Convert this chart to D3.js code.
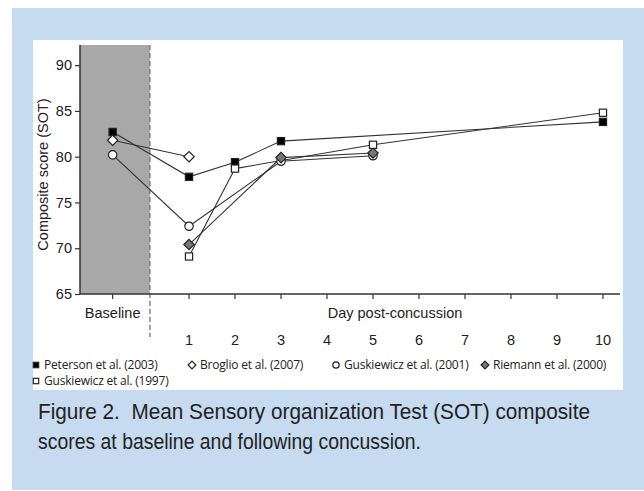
<!DOCTYPE html>
<html>
<head>
<meta charset="utf-8">
<script src="https://cdn.jsdelivr.net/npm/d3@7"></script>
<style>
  body { margin: 0; background: #fff; }
  svg { display: block; }
</style>
</head>
<body>
<svg></svg>
<script>
// --- data ---
var BASE = -0.66;   // where "Baseline" sits on the day axis
var dayTicks = [1, 2, 3, 4, 5, 6, 7, 8, 9, 10];
var yTicks = [65, 70, 75, 80, 85, 90];

var petersonDays = [BASE, 1, 2, 3, 10];
var petersonVals = [82.7, 77.8, 79.4, 81.7, 83.8];

var broglioDays = [BASE, 1];
var broglioVals = [81.8, 80.0];

var gusk2001Days = [BASE, 1, 3, 5];
var gusk2001Vals = [80.2, 72.4, 79.5, 80.1];

var riemannDays = [1, 3, 5];
var riemannVals = [70.4, 79.9, 80.4];

var gusk1997Days = [1, 2, 5, 10];
var gusk1997Vals = [69.1, 78.7, 81.3, 84.8];

var seriesNames = ["Peterson et al. (2003)", "Broglio et al. (2007)", "Guskiewicz et al. (2001)",
                   "Riemann et al. (2000)", "Guskiewicz et al. (1997)"];

var series = [
  {name: seriesNames[0], days: petersonDays, vals: petersonVals, shape: "square", fill: "#000"},
  {name: seriesNames[1], days: broglioDays, vals: broglioVals, shape: "diamond", fill: "#fff"},
  {name: seriesNames[2], days: gusk2001Days, vals: gusk2001Vals, shape: "circle", fill: "#fff"},
  {name: seriesNames[3], days: riemannDays, vals: riemannVals, shape: "diamond", fill: "#777"},
  {name: seriesNames[4], days: gusk1997Days, vals: gusk1997Vals, shape: "square", fill: "#fff"}
];

var width = 644, height = 491;
var svg = d3.select("svg").attr("width", width).attr("height", height);

// blue frame + white chart panel
svg.append("rect").attr("x", 12).attr("y", 8).attr("width", width - 12).attr("height", 482)
  .attr("fill", "#c6dbef");
svg.append("rect").attr("x", 33).attr("y", 40).attr("width", 590).attr("height", 350)
  .attr("fill", "#fff");

var plot = {left: 80, right: 620, top: 45, bottom: 294};

var x = d3.scaleLinear().domain([-1.37, 10.37]).range([plot.left, plot.right]);
var y = d3.scaleLinear().domain([65, 92.2]).range([plot.bottom, plot.top]);

// baseline shaded band
svg.append("rect")
  .attr("x", x(-1.37)).attr("y", plot.top)
  .attr("width", x(0.15) - x(-1.37)).attr("height", plot.bottom - plot.top)
  .attr("fill", "#a8a8a8");

svg.append("line")
  .attr("x1", x(0.15)).attr("x2", x(0.15))
  .attr("y1", plot.top).attr("y2", 337)
  .attr("stroke", "#777").attr("stroke-width", 1.3)
  .attr("stroke-dasharray", "5,3");

var fontAxis = "'Liberation Sans', Arial, sans-serif";

// axes
var yAxis = d3.axisLeft(y).tickValues(yTicks).tickSize(5).tickPadding(3);
var gy = svg.append("g").attr("transform", "translate(" + plot.left + ",0)").call(yAxis);
gy.select(".domain").remove();
gy.append("line").attr("x1", 0).attr("x2", 0).attr("y1", plot.top).attr("y2", plot.bottom)
  .attr("stroke", "#333").attr("stroke-width", 1.5);
gy.selectAll(".tick line").attr("stroke", "#333").attr("stroke-width", 1.2);
gy.selectAll(".tick text").attr("font-family", fontAxis)
  .attr("font-size", 14.5).attr("fill", "#222");

var gx = svg.append("g").attr("transform", "translate(0," + plot.bottom + ")");
gx.append("line").attr("x1", plot.left).attr("x2", plot.right)
  .attr("stroke", "#333").attr("stroke-width", 1.5);
gx.selectAll("line.tk").data([BASE].concat(dayTicks)).enter().append("line")
  .attr("class", "tk")
  .attr("x1", function(d) { return x(d); }).attr("x2", function(d) { return x(d); })
  .attr("y1", 0).attr("y2", 5)
  .attr("stroke", "#333").attr("stroke-width", 1.2);

svg.append("text").attr("x", x(BASE)).attr("y", 318)
  .attr("text-anchor", "middle").attr("font-family", fontAxis).attr("font-size", 14.5)
  .attr("fill", "#222").text("Baseline");
svg.append("text").attr("x", x(5.5) - 1).attr("y", 318)
  .attr("text-anchor", "middle").attr("font-family", fontAxis).attr("font-size", 14.5)
  .attr("fill", "#222").text("Day post-concussion");
svg.selectAll("text.day").data(dayTicks).enter().append("text")
  .attr("class", "day")
  .attr("x", function(d) { return x(d); }).attr("y", 345)
  .attr("text-anchor", "middle").attr("font-family", fontAxis).attr("font-size", 14.5)
  .attr("fill", "#222").text(function(d) { return d; });

svg.append("text")
  .attr("transform", "translate(48," + ((plot.top + plot.bottom) / 2 + 5) + ") rotate(-90)")
  .attr("text-anchor", "middle").attr("font-family", fontAxis).attr("font-size", 14.5)
  .attr("fill", "#222").text("Composite score (SOT)");

// lines
var line = d3.line().x(function(d) { return x(d[0]); }).y(function(d) { return y(d[1]); });
series.forEach(function(s) {
  s.pts = s.days.map(function(d, i) { return [d, s.vals[i]]; });
  svg.append("path").datum(s.pts).attr("d", line)
    .attr("fill", "none").attr("stroke", "#333").attr("stroke-width", 1.1);
});

function marker(g, shape, fill, scale) {
  scale = scale || 1;
  var m;
  if (shape === "square") {
    m = g.append("rect").attr("x", -3.6 * scale).attr("y", -3.6 * scale)
      .attr("width", 7.2 * scale).attr("height", 7.2 * scale);
  } else if (shape === "circle") {
    m = g.append("circle").attr("r", 4.2 * scale);
  } else {
    var r = 5.2 * scale;
    m = g.append("path").attr("d", "M0," + (-r) + "L" + r + ",0L0," + r + "L" + (-r) + ",0Z");
  }
  m.attr("fill", fill).attr("stroke", "#222").attr("stroke-width", 1.2);
}

series.forEach(function(s) {
  svg.selectAll(null).data(s.pts).enter().append("g")
    .attr("transform", function(d) { return "translate(" + x(d[0]) + "," + y(d[1]) + ")"; })
    .each(function() { marker(d3.select(this), s.shape, s.fill); });
});

// legend
var legendFont = "'Open Sans', 'Liberation Sans', sans-serif";
var legendPos = [[36, 365], [192, 365], [336, 365], [485, 365], [36, 381]];
series.forEach(function(s, i) {
  var g = svg.append("g").attr("transform", "translate(" + legendPos[i][0] + "," + legendPos[i][1] + ")");
  marker(g, s.shape, s.fill, 0.75);
  g.append("text").attr("x", 8).attr("y", 4)
    .attr("font-family", legendFont).attr("font-size", 12).attr("fill", "#222")
    .attr("letter-spacing", -0.2).text(s.name);
});

// caption (condensed face in the original, squeezed to its width here)
var capFont = "'Liberation Sans', Arial, sans-serif";
svg.append("text").attr("x", 38).attr("y", 419)
  .attr("font-family", capFont).attr("font-size", 22).attr("fill", "#222")
  .attr("xml:space", "preserve")
  .attr("textLength", 552).attr("lengthAdjust", "spacingAndGlyphs")
  .text("Figure 2.  Mean Sensory organization Test (SOT) composite");
svg.append("text").attr("x", 38).attr("y", 449)
  .attr("font-family", capFont).attr("font-size", 22).attr("fill", "#222")
  .attr("textLength", 383).attr("lengthAdjust", "spacingAndGlyphs")
  .text("scores at baseline and following concussion.");
</script>
</body>
</html>
